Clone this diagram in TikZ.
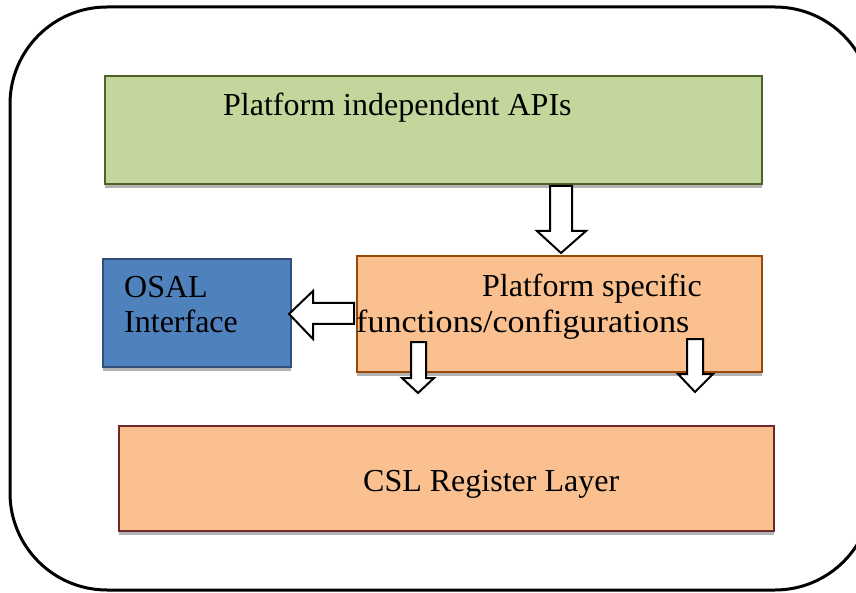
\documentclass[tikz,border=0pt]{standalone}
\usepackage{fontspec}
\setmainfont{Liberation Serif}
\begin{document}
\begin{tikzpicture}[x=1pt,y=-1pt,
  box/.style={draw, line width=1.6pt, rectangle, inner sep=0pt, outer sep=0pt,
    preaction={fill=black!30, transform canvas={yshift=-4pt}}},
  greenbox/.style={box, fill=green1, draw=green2},
  bluebox/.style={box, fill=blue1, draw=blue2},
  orangebox/.style={box, fill=orange1, draw=orange2},
  cslbox/.style={box, fill=orange1, draw=red2},
  lbl/.style={anchor=base west, inner sep=0pt, font=\fontsize{32}{35}\selectfont},
  blockarrow/.style={draw=black, line width=2pt, fill=white, line join=miter}
]
\definecolor{green1}{HTML}{C3D69B}
\definecolor{green2}{HTML}{4F6228}
\definecolor{blue1}{HTML}{4F81BD}
\definecolor{blue2}{HTML}{2F4F7A}
\definecolor{orange1}{HTML}{FAC090}
\definecolor{orange2}{HTML}{984807}
\definecolor{red2}{HTML}{6E2A2A}
\useasboundingbox (0,0) rectangle (856,593);
\clip (0,0) rectangle (856,593);
% outer frame
\draw[line width=3pt, rounded corners=97pt] (10,7) rectangle (872,590);
% boxes
\node[greenbox, minimum width=657pt, minimum height=108pt] (api) at (433.5,130) {};
\node[bluebox, minimum width=188pt, minimum height=108pt] (osal) at (197,313) {};
\node[orangebox, minimum width=405pt, minimum height=116pt] (plat) at (559.5,314) {};
\node[cslbox, minimum width=655pt, minimum height=105pt] (csl) at (446.5,478.5) {};
% texts
\node[lbl] (tapi) at (223,116) {Platform independent APIs};
\node[lbl] (tosal1) at (124,298) {OSAL};
\node[lbl] (tosal2) at (124,333) {Interface};
\node[lbl] (tplat1) at (482,297) {Platform specific};
\node[lbl, xscale=1.065] (tplat2) at (356,332) {functions/configurations};
\node[lbl] (tcsl) at (363,491) {CSL Register Layer};
% block arrows
\draw[blockarrow] (550,186) -- (572,186) -- (572,231) -- (586,231) -- (561,253)
  -- (537,231) -- (550,231) -- cycle;
\draw[blockarrow] (354,303) -- (313,303) -- (313,291) -- (289,314) -- (313,339)
  -- (313,324) -- (354,324) -- cycle;
\draw[blockarrow] (411,342) -- (426,342) -- (426,378) -- (434,378) -- (418,393)
  -- (402,378) -- (411,378) -- cycle;
\draw[blockarrow] (687,339) -- (703,339) -- (703,374) -- (713,374) -- (695,392)
  -- (678,374) -- (687,374) -- cycle;
\end{tikzpicture}
\end{document}
